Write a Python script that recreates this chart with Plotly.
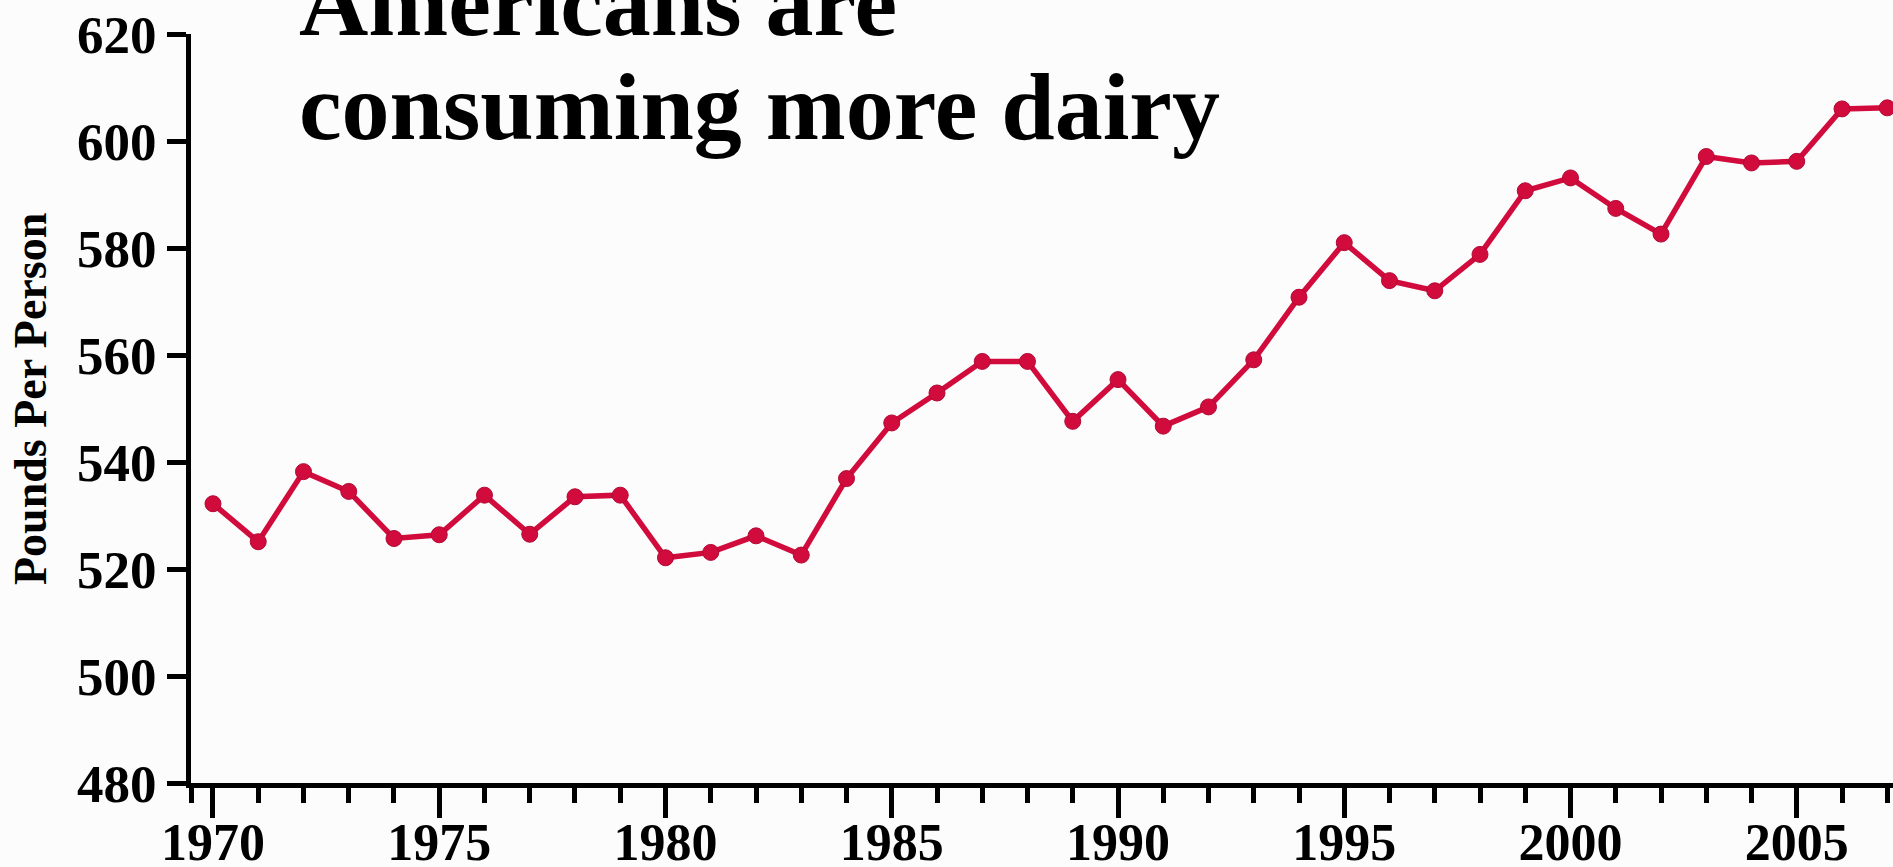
import plotly.graph_objects as go

years = list(range(1970, 2008))
pounds = [532.2, 525.1, 538.2, 534.5, 525.7, 526.4, 533.8, 526.5, 533.5, 533.8,
          522.1, 523.1, 526.2, 522.6, 536.9, 547.3, 552.9, 558.8, 558.8, 547.6,
          555.4, 546.7, 550.3, 559.1, 570.8, 581.0, 573.9, 572.0, 578.8, 590.7,
          593.1, 587.4, 582.6, 597.1, 595.9, 596.2, 606.0, 606.2]
x_ticks = [1970, 1975, 1980, 1985, 1990, 1995, 2000, 2005]
y_ticks = [480, 500, 520, 540, 560, 580, 600, 620]
title_lines = ["Americans are", "consuming more dairy"]
y_title = "Pounds Per Person"

X_RANGE = [1969.514, 2007.127]
Y_RANGE = [480, 620]
RED = "#D20B3D"
FONT = "Liberation Serif"

fig = go.Figure()
fig.add_trace(go.Scatter(
    x=years, y=pounds, mode="lines+markers",
    line=dict(color=RED, width=5.5),
    marker=dict(color=RED, size=16, line=dict(color="#B00A35", width=1)),
    cliponaxis=False, showlegend=False,
))

fig.update_layout(
    width=1893, height=867,
    margin=dict(l=191, r=0, t=34, b=84),
    paper_bgcolor="#FCFCFC", plot_bgcolor="#FCFCFC",
    font=dict(family=FONT, color="black"),
    xaxis=dict(
        range=X_RANGE, showgrid=False, zeroline=False, automargin=False,
        showline=True, linecolor="black", linewidth=5,
        tickmode="array", tickvals=x_ticks, ticktext=[str(v) for v in x_ticks],
        ticks="outside", ticklen=30, tickwidth=5, tickcolor="black",
        ticklabelstandoff=-20,
        tickfont=dict(family=FONT, size=52, color="black", weight="bold"),
        minor=dict(tickmode="array", tickvals=[X_RANGE[0]] + years,
                   ticks="outside", ticklen=15, tickwidth=5, tickcolor="black",
                   showgrid=False),
    ),
    yaxis=dict(
        range=Y_RANGE, showgrid=False, zeroline=False, automargin=False,
        showline=True, linecolor="black", linewidth=5,
        tickmode="array", tickvals=y_ticks, ticktext=[str(v) for v in y_ticks],
        ticks="outside", ticklen=19, tickwidth=5, tickcolor="black",
        tickfont=dict(family=FONT, size=53, color="black", weight="bold"),
    ),
)

fig.add_annotation(
    text=y_title, textangle=-90, showarrow=False,
    xref="paper", yref="paper", x=(31 - 191) / 1702, y=(783 - 399) / 749,
    xanchor="center", yanchor="middle",
    font=dict(family=FONT, size=46, color="black", weight="bold"),
)
for line_text, ymid in zip(title_lines, [3, 106]):
    fig.add_annotation(
        text=line_text, showarrow=False,
        xref="paper", yref="paper", x=(297 - 191) / 1702, y=(783 - ymid) / 749,
        xanchor="left", yanchor="middle",
        font=dict(family=FONT, size=96, color="black", weight="bold"),
    )

fig.write_html("out.html")
